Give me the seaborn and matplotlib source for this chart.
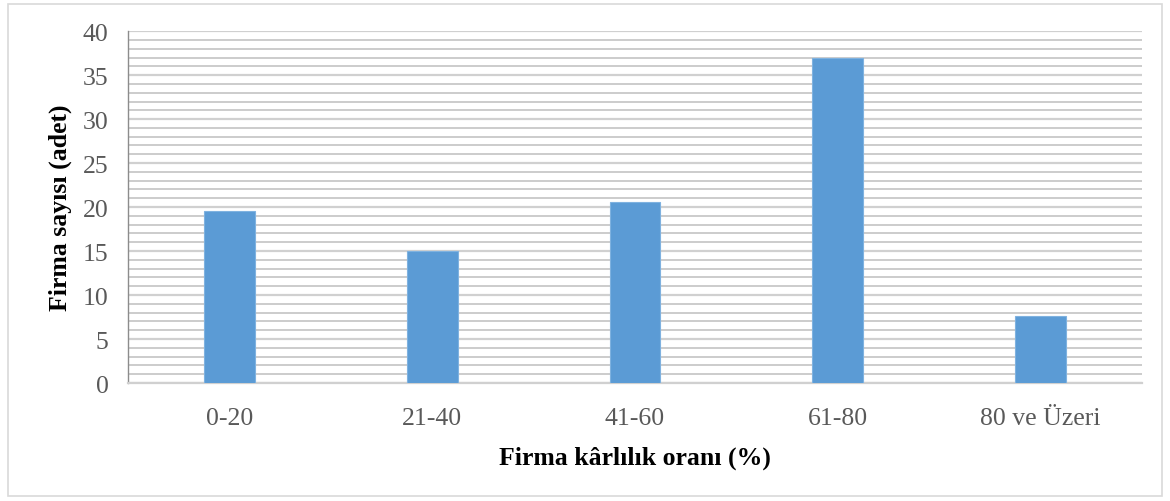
import matplotlib
matplotlib.use("Agg")
import matplotlib.pyplot as plt
from matplotlib.patches import Rectangle
from matplotlib.ticker import MultipleLocator
import seaborn as sns
import pandas as pd

# Profitability bands and number of firms in each
categories = ["0-20", "21-40", "41-60", "61-80", "80 ve Üzeri"]
firm_counts = [19.6, 15.0, 20.6, 37.0, 7.6]

x_label = "Firma kârlılık oranı (%)"
y_label = "Firma sayısı (adet)"

df = pd.DataFrame({"band": categories, "count": firm_counts})

sns.set_theme(style="white")
plt.rcParams["font.family"] = ["Liberation Serif", "DejaVu Serif"]

fig = plt.figure(figsize=(11.7, 5.02), dpi=100)
ax = fig.add_axes([0.1094, 0.235, 0.8666, 0.701])

sns.barplot(data=df, x="band", y="count", color="#5B9BD5", width=0.25,
            saturation=1, edgecolor="#7fb2e0", linewidth=0.8, ax=ax, zorder=3)

ax.set_ylim(0, 40)
ax.set_xlim(-0.5, len(categories) - 0.5)
ax.yaxis.set_major_locator(MultipleLocator(5))
ax.yaxis.set_minor_locator(MultipleLocator(1))
ax.grid(which="major", axis="y", color="#d0d0d0", linewidth=1.6, zorder=0)
ax.grid(which="minor", axis="y", color="#c4c4c4", linewidth=1.2, zorder=0)
ax.set_axisbelow(True)

for side in ("top", "right"):
    ax.spines[side].set_visible(False)
ax.spines["left"].set_color("#8c8c8c")
ax.spines["left"].set_linewidth(1.0)
ax.spines["bottom"].set_color("#d0d0d0")
ax.spines["bottom"].set_linewidth(1.6)

ax.tick_params(axis="y", which="major", direction="out", length=7, width=1,
               color="#8c8c8c", labelsize=18.5, labelcolor="#595959", pad=7)
ax.tick_params(axis="y", which="minor", length=0)
ax.tick_params(axis="x", length=0, labelsize=18.5, labelcolor="#595959", pad=17)

ax.set_xlabel(x_label, fontsize=18.5, fontweight="bold", color="black", labelpad=12)
ax.set_ylabel(y_label, fontsize=18.5, fontweight="bold", color="black", labelpad=8)

# Light frame around the whole figure
fig.patches.append(Rectangle((8 / 1170, 5 / 502), 1154 / 1170, 492 / 502,
                             transform=fig.transFigure, fill=False,
                             edgecolor="#d9d9d9", linewidth=1.2))

fig.savefig("out.png", dpi=100)
